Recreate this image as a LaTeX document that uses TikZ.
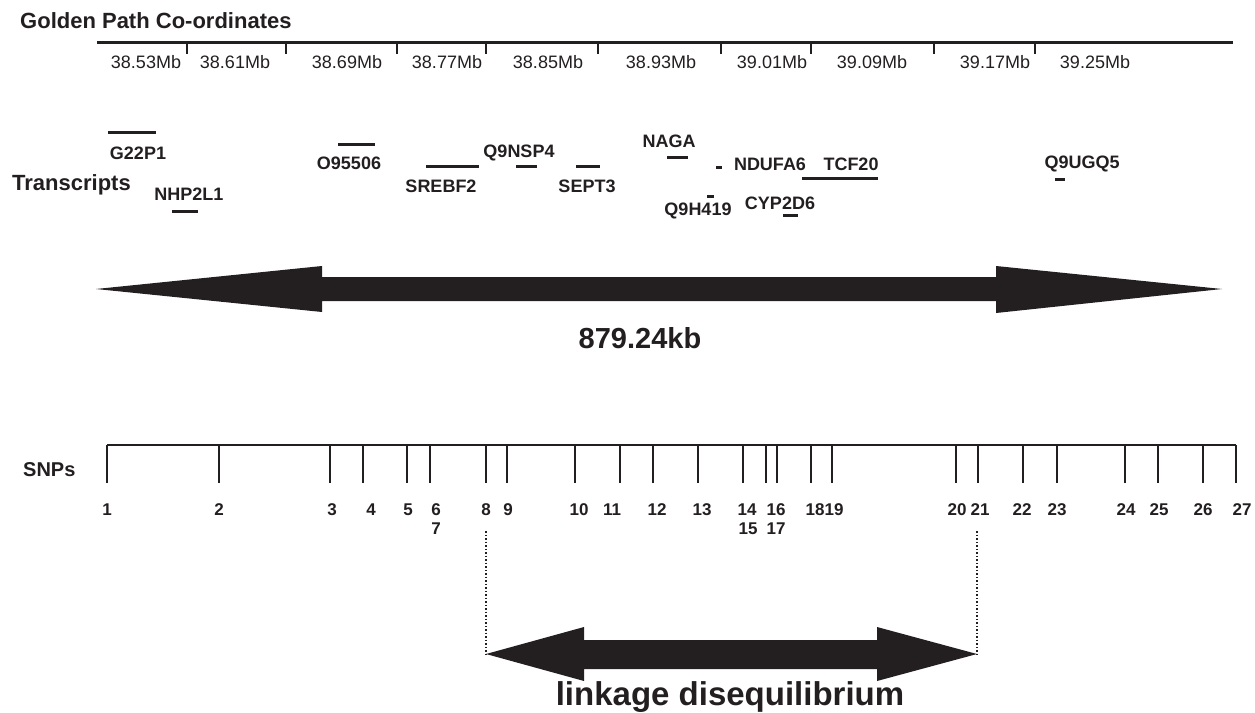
\documentclass[tikz,border=0pt]{standalone}
\usepackage{fontspec}
\setmainfont{Liberation Sans}
\definecolor{ink}{HTML}{231F20}
\begin{document}
\begin{tikzpicture}[x=1pt,y=-1pt,
  every node/.style={inner sep=0pt, text=ink},
  head/.style={anchor=west, font=\fontsize{22}{22}\selectfont\bfseries},
  mb/.style={font=\fontsize{18}{18}\selectfont},
  gene/.style={font=\fontsize{18}{18}\selectfont\bfseries},
  snpnum/.style={font=\fontsize{17}{17}\selectfont\bfseries},
  bar/.style={draw=ink, line width=3pt},
  axistick/.style={draw=ink, line width=1.8pt},
  snpline/.style={draw=ink, line width=1.2pt},
  bigarrow/.style={fill=ink, draw=none},
  ldline/.style={draw=ink, dotted, line width=1.5pt},
]
\useasboundingbox (0,0) rectangle (1255,712);

% ---- Golden path coordinates
\node[head] (title) at (20,21) {Golden Path Co-ordinates};
\coordinate (axL) at (97,42);
\coordinate (axR) at (1233,42);
\draw[draw=ink, line width=3pt] (axL) -- (axR);
\foreach \x in {187,286,397,486,598,721,811,934,1035}
  \draw[axistick] (\x,42) -- (\x,54);
\foreach \x/\t in {146/38.53Mb,235/38.61Mb,347/38.69Mb,447/38.77Mb,548/38.85Mb,
                   661/38.93Mb,772/39.01Mb,872/39.09Mb,995/39.17Mb,1095/39.25Mb}
  \node[mb] at (\x,62) {\t};

% ---- Transcripts
\node[head] (transcripts) at (12,185) {Transcripts};
\node[gene] (g22p1) at (138,153) {G22P1};
\draw[bar] (108,132) -- (156,132);
\node[gene] (nhp2l1) at (189,194) {NHP2L1};
\draw[bar] (172,211) -- (198,211);
\node[gene] (o95506) at (349,163) {O95506};
\draw[bar] (338,144) -- (375,144);
\node[gene] (srebf2) at (441,186) {SREBF2};
\draw[bar] (426,166) -- (479,166);
\node[gene] (q9nsp4) at (519,153) {Q9NSP4};
\draw[bar] (516,166) -- (537,166);
\node[gene] (sept3) at (587,186) {SEPT3};
\draw[bar] (576,166) -- (600,166);
\node[gene] (naga) at (669,141) {NAGA};
\draw[bar] (667,157) -- (688,157);
\node[gene] (ndufa6) at (770,164) {NDUFA6};
\draw[bar] (716,167) -- (722,167);
\node[gene] (tcf20) at (851,164) {TCF20};
\draw[bar] (802,178) -- (878,178);
\node[gene] (q9h419) at (698,211) {Q9H419};
\draw[bar] (707,196) -- (714,196);
\node[gene] (cyp2d6) at (780,203) {CYP2D6};
\draw[bar] (783,215) -- (798,215);
\node[gene] (q9ugq5) at (1082,164) {Q9UGQ5};
\draw[bar] (1055,179) -- (1065,179);

% ---- big double arrow
\fill[bigarrow] (96,289) -- (322,266) -- (322,277) -- (996,277) -- (996,266)
  -- (1222,289) -- (996,313) -- (996,301) -- (322,301) -- (322,312) -- cycle;
\node[font=\fontsize{29}{29}\selectfont\bfseries] (kb) at (640,338) {879.24kb};

% ---- SNPs
\node[head, font=\fontsize{20}{20}\selectfont\bfseries] (snps) at (23,470) {SNPs};
\draw[snpline] (107,445) -- (1236,445);
\foreach \x in {107,219,330,363,407,430,486,507,575,620,653,698,743,766,777,811,832,956,978,1023,1057,1125,1158,1203,1236}
  \draw[snpline] (\x,445) -- (\x,483);
\foreach \x/\t in {107/1,219/2,332/3,371/4,408/5,436/6,486/8,508/9,579/10,612/11,
                   657/12,702/13,747/14,776/16,815/18,834/19,957/20,980/21,1022/22,
                   1057/23,1126/24,1159/25,1203/26,1242/27}
  \node[snpnum] at (\x,510) {\t};
\node[snpnum] (s7) at (436,529) {7};
\node[snpnum] (s15) at (748,529) {15};
\node[snpnum] (s17) at (776,529) {17};

% ---- linkage disequilibrium
\coordinate (ldLtop) at (486,531);
\coordinate (ldRtop) at (977,531);
\coordinate (ldL) at (486,654);
\coordinate (ldR) at (977,654);
\draw[ldline] (ldLtop) -- (ldL);
\draw[ldline] (ldRtop) -- (ldR);
\fill[bigarrow] (ldL) -- (584,627) -- (584,640) -- (877,640) -- (877,627)
  -- (ldR) -- (877,681) -- (877,669) -- (584,669) -- (584,681) -- cycle;
\node[anchor=base, font=\fontsize{33}{33}\selectfont\bfseries] (ld) at (730,705) {linkage disequilibrium};
\end{tikzpicture}
\end{document}
